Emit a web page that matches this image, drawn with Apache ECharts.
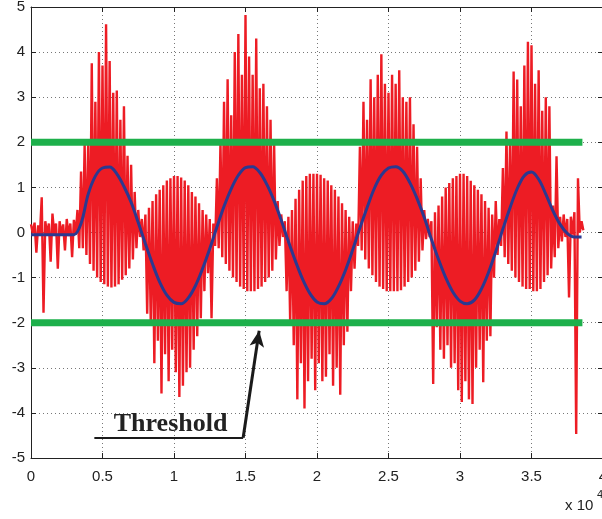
<!DOCTYPE html>
<html><head><meta charset="utf-8">
<script src="https://cdn.jsdelivr.net/npm/echarts@6/dist/echarts.min.js"></script>
<style>html,body{margin:0;padding:0;background:#fff}#c{width:602px;height:519px}</style>
</head><body><div id="c"></div>
<script>
// ---------- data ----------
const xTickLabels = ['0','0.5','1','1.5','2','2.5','3','3.5','4'];
const yTickLabels = ['-5','-4','-3','-2','-1','0','1','2','3','4','5'];
const thresholds = [2, -2];
const thresholdEnd = 38560;

// red measured signal: per-sample high / low excursions, sample spacing 250
const redStep = 250;
const redHi = [
 0.18,0.22,0.16,0.78,0.25,0.2,0.42,0.2,0.25,0.18,0.3,0.2,0.28,0.5,
 1.35,1.95,2.0,3.75,2.9,4.0,3.7,4.62,3.8,3.1,3.15,2.5,2.8,1.7,1.5,0.9,0.5,
 0.3,0.4,0.55,0.7,0.85,0.95,1.05,1.15,1.2,1.25,1.25,1.22,1.15,1.05,0.9,0.8,0.65,0.5,0.4,0.3,0.2,
 1.2,2.0,2.9,3.4,2.6,4.0,4.4,3.5,4.82,3.9,3.5,4.3,3.2,3.3,2.8,2.5,2.0,0.7,0.4,
 0.25,0.35,0.5,0.75,0.95,1.15,1.25,1.3,1.3,1.3,1.28,1.2,1.15,1.05,0.95,0.8,0.65,0.5,0.35,0.25,0.2,
 1.9,2.9,2.5,3.4,3.0,3.5,3.95,3.3,3.1,3.5,3.3,3.6,3.0,2.9,3.0,2.4,1.9,1.2,0.5,0.3,
 0.25,0.45,0.6,0.8,1.0,1.1,1.2,1.25,1.3,1.3,1.25,1.15,1.05,0.95,0.85,0.7,0.55,0.4,0.7,0.3,
 1.43,2.24,2.0,3.57,3.39,2.8,3.7,4.23,4.15,3.3,3.6,2.7,3.0,2.8,0.6,1.69,
 0.35,0.4,0.3,0.35,0.45,1.2,0.25
];
const redLo = [
 -0.02,-0.45,-0.05,-1.78,-0.05,-0.65,-0.03,-0.8,-0.05,-0.4,-0.08,-0.55,-0.05,-0.35,
 -0.35,-0.5,-0.7,-0.85,-1.0,-1.1,-1.15,-1.2,-1.22,-1.2,-1.15,-1.05,-0.95,-0.8,-0.6,-0.35,-0.1,
 -0.4,-1.8,-2.0,-2.9,-2.4,-3.57,-2.7,-3.3,-2.6,-3.1,-3.65,-3.4,-3.1,-3.0,-2.6,-2.3,-1.9,-1.3,-0.9,-1.9,-0.3,
 -0.35,-0.55,-0.7,-0.85,-1.0,-1.1,-1.2,-1.25,-1.3,-1.3,-1.3,-1.25,-1.2,-1.1,-1.0,-0.85,-0.6,-0.3,-0.1,
 -1.3,-2.0,-2.5,-3.7,-2.9,-3.9,-3.3,-2.8,-3.5,-2.9,-3.3,-3.2,-2.7,-3.4,-3.0,-3.6,-2.5,-2.2,-1.3,-0.8,-0.3,
 -0.4,-0.6,-0.8,-0.95,-1.1,-1.2,-1.25,-1.3,-1.3,-1.3,-1.3,-1.28,-1.2,-1.1,-1.0,-0.85,-0.65,-0.4,-0.15,-0.1,
 -3.36,-2.1,-2.6,-2.8,-2.5,-3.0,-2.9,-3.5,-3.76,-3.3,-3.7,-3.8,-3.0,-2.6,-3.32,-2.4,-2.3,-1.0,-0.5,-0.3,
 -0.55,-0.7,-0.85,-1.0,-1.1,-1.2,-1.25,-1.25,-1.3,-1.3,-1.25,-1.1,-0.95,-0.8,-0.55,-0.35,
 -0.2,-0.1,-1.44,-0.05,-4.47,0.0,0.05
];

// blue reference curve, sample spacing 500
const blueStep = 500;
const blueVals = [
 -0.05,-0.05,-0.05,-0.05,-0.05,-0.05,-0.05,0.2,0.85,1.25,1.43,1.45,1.3,1.02,0.67,0.22,
 -0.25,-0.7,-1.1,-1.39,-1.55,-1.58,-1.45,-1.18,-0.8,-0.36,0.12,0.58,0.97,1.27,1.44,1.46,
 1.33,1.06,0.7,0.27,-0.2,-0.64,-1.04,-1.35,-1.54,-1.58,-1.47,-1.2,-0.83,-0.38,0.1,0.55,
 0.97,1.27,1.43,1.46,1.36,1.1,0.75,0.33,-0.15,-0.6,-1.0,-1.32,-1.52,-1.58,-1.5,-1.25,
 -0.88,-0.42,0.08,0.55,0.97,1.26,1.34,1.18,0.85,0.48,0.18,-0.02,-0.1,-0.1
];

// annotation (data coordinates)
const annText = 'Threshold';
const annTextPos = [9760, -4.25];
const annUnderline = [[4430, -4.55], [14836, -4.55]];
const annArrow = [[14836, -4.55], [15955, -2.18]];

// ---------- build ----------
const redData = [];
for (let i = 0; i < redHi.length; i++) {
  redData.push([i * redStep, redHi[i]]);
  redData.push([i * redStep + redStep / 2, redLo[i]]);
}
const blueData = blueVals.map((v, i) => [i * blueStep, v]);

const FONT = 'Liberation Sans, Arial, Helvetica, sans-serif';
const axisCol = '#222';
const gridLine = {show: true, lineStyle: {color: '#777', width: 1, type: [1, 3]}};
const axLine = {show: true, onZero: false, lineStyle: {color: axisCol, width: 1}};

const chart = echarts.init(document.getElementById('c'), null, {renderer: 'canvas'});
chart.setOption({
  animation: false,
  backgroundColor: '#fff',
  grid: {left: 31, top: 7, width: 572, height: 451, containLabel: false, outerBoundsMode: 'none'},
  xAxis: [{
    type: 'value', min: 0, max: 40000, interval: 5000,
    axisLine: axLine,
    axisTick: {show: true, inside: true, length: 5, lineStyle: {color: axisCol}},
    axisLabel: {show: true, margin: 11, fontSize: 15, fontFamily: FONT, color: axisCol,
      showMinLabel: true, showMaxLabel: true,
      formatter: v => xTickLabels[Math.round(v / 5000)]},
    splitLine: gridLine
  }, {
    type: 'value', position: 'top', min: 0, max: 40000, interval: 5000,
    axisLine: axLine,
    axisTick: {show: true, inside: true, length: 5, lineStyle: {color: axisCol}},
    axisLabel: {show: false}, splitLine: {show: false}
  }],
  yAxis: [{
    type: 'value', min: -5, max: 5, interval: 1,
    axisLine: axLine,
    axisTick: {show: true, inside: true, length: 5, lineStyle: {color: axisCol}},
    axisLabel: {show: true, margin: 6, fontSize: 15, fontFamily: FONT, color: axisCol,
      showMinLabel: true, showMaxLabel: true,
      formatter: v => yTickLabels[Math.round(v + 5)]},
    splitLine: gridLine
  }, {
    type: 'value', position: 'right', min: -5, max: 5, interval: 1,
    axisLine: axLine,
    axisTick: {show: true, inside: true, length: 5, lineStyle: {color: axisCol}},
    axisLabel: {show: false}, splitLine: {show: false}
  }],
  series: [
    {type: 'line', name: 'measured', data: redData, showSymbol: false, symbol: 'none',
     sampling: null, lineStyle: {color: '#ed1c24', width: 2.4, join: 'miter', miterLimit: 2}, z: 2},
    {type: 'line', name: 'reference', data: blueData, showSymbol: false, symbol: 'none',
     smooth: 0.35, lineStyle: {color: '#2b3990', width: 3}, z: 3},
    {type: 'line', name: 'upper', data: [[0, thresholds[0]], [thresholdEnd, thresholds[0]]],
     showSymbol: false, symbol: 'none', lineStyle: {color: '#1db04b', width: 7, cap: 'butt'}, z: 4,
     markLine: {silent: true, symbol: ['none', 'arrow'], symbolSize: [11, 16],
       lineStyle: {color: '#1a1a1a', width: 3, type: 'solid'}, label: {show: false},
       itemStyle: {color: '#1a1a1a'},
       data: [[{coord: annArrow[0]}, {coord: annArrow[1]}]]}},
    {type: 'line', name: 'lower', data: [[0, thresholds[1]], [thresholdEnd, thresholds[1]]],
     showSymbol: false, symbol: 'none', lineStyle: {color: '#1db04b', width: 7, cap: 'butt'}, z: 4,
     markLine: {silent: true, symbol: ['none', 'none'],
       lineStyle: {color: '#1a1a1a', width: 2, type: 'solid'}, label: {show: false},
       data: [[{coord: annUnderline[0]}, {coord: annUnderline[1]}]]},
     markPoint: {silent: true,
       data: [{coord: annTextPos, symbol: 'circle', symbolSize: 1, itemStyle: {color: 'rgba(0,0,0,0)'},
         label: {show: true, position: 'inside', formatter: annText,
           fontFamily: 'Liberation Serif, Times New Roman, serif', fontWeight: 'bold', fontSize: 26, color: '#222'}}]}}
  ],
  graphic: [
    {type: 'text', x: 565, y: 506, style: {text: 'x 10', font: '15px ' + FONT, fill: axisCol, textVerticalAlign: 'middle'}},
    {type: 'text', x: 597, y: 495, style: {text: '4', font: '11px ' + FONT, fill: axisCol, textVerticalAlign: 'middle'}}
  ]
});
</script></body></html>
